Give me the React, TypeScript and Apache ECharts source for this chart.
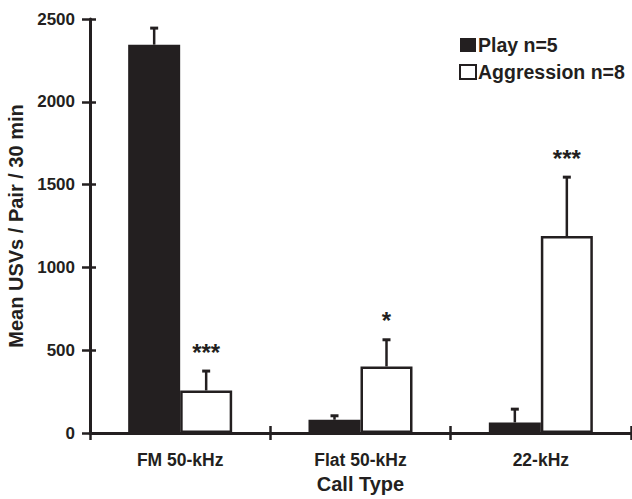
import React, { useEffect, useRef } from "react";
import * as echarts from "echarts";

const categories = ["FM 50-kHz", "Flat 50-kHz", "22-kHz"];
const playMean = [2345, 80, 64];
const playErr = [100, 24, 80];
const aggMean = [257, 402, 1189];
const aggErr = [117, 161, 356];
const stars = ["***", "*", "***"];
const yTicks = [0, 500, 1000, 1500, 2000, 2500];

const INK = "#231f20";
const FONT = "'Liberation Sans', Arial, sans-serif";
const BAR_W = 52;

export default function App() {
  const ref = useRef<HTMLDivElement>(null);
  useEffect(() => {
    document.body.style.margin = "0";
    const chart = echarts.init(ref.current!, undefined, { renderer: "svg" });

    const errData: any[] = [];
    categories.forEach((_, i) => {
      errData.push([i, playMean[i], playErr[i], -1, ""]);
      errData.push([i, aggMean[i], aggErr[i], 1, stars[i]]);
    });

    const option: any = {
      animation: false,
      textStyle: { fontFamily: FONT },
      grid: { left: 90, right: 1, top: 19, bottom: 66, containLabel: false, outerBoundsMode: "none" },
      legend: {
        orient: "vertical",
        left: 454,
        top: 30,
        itemWidth: 16,
        itemHeight: 14,
        itemGap: 7,
        icon: "rect",
        data: ["Play n=5", "Aggression n=8"],
        textStyle: { fontFamily: FONT, fontSize: 19.5, fontWeight: "bold", color: INK, padding: [0, 0, 0, -3] },
      },
      xAxis: [
        {
          type: "category",
          data: categories,
          name: "Call Type",
          nameLocation: "middle",
          nameGap: 41,
          nameMoveOverlap: false,
          nameTextStyle: { fontFamily: FONT, fontSize: 20, fontWeight: "bold", color: INK },
          axisLine: { lineStyle: { color: INK, width: 3 } },
          axisTick: { show: true, length: 7, lineStyle: { color: INK, width: 2.5 } },
          axisLabel: { fontFamily: FONT, fontSize: 17.5, fontWeight: "bold", color: INK, margin: 18 },
        },
        {
          type: "category",
          data: categories,
          position: "bottom",
          axisLine: { show: false },
          axisTick: { show: true, inside: true, length: 7, lineStyle: { color: INK, width: 2.5 } },
          axisLabel: { show: false },
        },
      ],
      yAxis: [
        {
          type: "value",
          min: 0,
          max: 2500,
          interval: 500,
          name: "Mean USVs / Pair / 30 min",
          nameLocation: "middle",
          nameGap: 64,
          nameMoveOverlap: false,
          nameTextStyle: { fontFamily: FONT, fontSize: 20, fontWeight: "bold", color: INK },
          splitLine: { show: false },
          axisLine: { show: true, lineStyle: { color: INK, width: 3 } },
          axisTick: { show: true, length: 8, lineStyle: { color: INK, width: 2.5 } },
          axisLabel: {
            fontFamily: FONT,
            fontSize: 17,
            fontWeight: "bold",
            color: INK,
            margin: 15,
            formatter: (v: number) => (yTicks.includes(v) ? String(v) : ""),
          },
        },
        {
          type: "value",
          min: 0,
          max: 2500,
          interval: 500,
          position: "left",
          splitLine: { show: false },
          axisLine: { show: false },
          axisTick: { show: true, inside: true, length: 6, lineStyle: { color: INK, width: 2.5 } },
          axisLabel: { show: false },
        },
      ],
      series: [
        {
          name: "Play n=5",
          type: "bar",
          barWidth: BAR_W,
          barGap: "0%",
          data: playMean,
          itemStyle: { color: INK },
        },
        {
          name: "Aggression n=8",
          type: "bar",
          barWidth: BAR_W,
          barGap: "0%",
          data: aggMean,
          itemStyle: { color: "#ffffff", borderColor: INK, borderWidth: 2.5 },
        },
        {
          type: "custom",
          z: 5,
          data: errData,
          encode: { x: 0, y: 1 },
          renderItem: (params: any, api: any) => {
            const cat = api.value(0);
            const mean = api.value(1);
            const err = api.value(2);
            const side = api.value(3);
            const star = errData[params.dataIndex][4];
            const base = api.coord([cat, mean]);
            const top = api.coord([cat, mean + err]);
            const x = base[0] + side * (BAR_W / 2);
            const children: any[] = [
              {
                type: "line",
                shape: { x1: x, y1: base[1], x2: x, y2: top[1] },
                style: { stroke: INK, lineWidth: 2.5 },
              },
              {
                type: "line",
                shape: { x1: x - 4, y1: top[1], x2: x + 4, y2: top[1] },
                style: { stroke: INK, lineWidth: 3 },
              },
            ];
            if (star) {
              children.push({
                type: "text",
                style: {
                  text: star,
                  x: x,
                  y: top[1] - 7,
                  align: "center",
                  verticalAlign: "bottom",
                  font: `bold 24px ${FONT}`,
                  fill: INK,
                },
              });
            }
            return { type: "group", children };
          },
        },
      ],
    };
    chart.setOption(option);
    return () => chart.dispose();
  }, []);
  return <div ref={ref} style={{ width: 632, height: 499 }} />;
}
